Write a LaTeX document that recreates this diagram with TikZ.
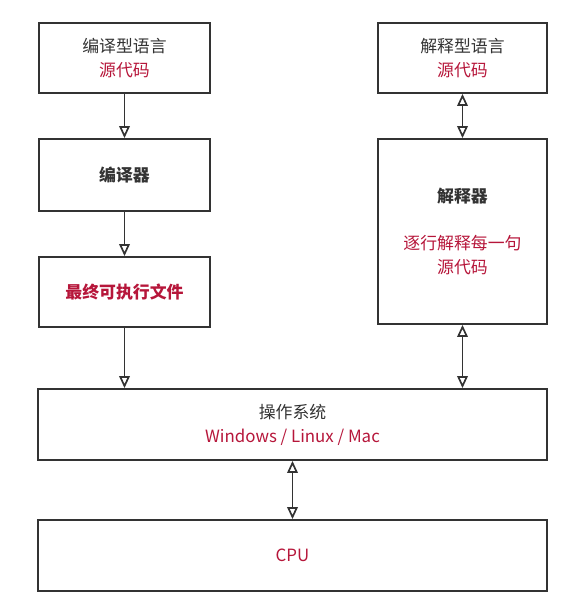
\documentclass[tikz,border=0pt]{standalone}
\usepackage{fontspec}
\setmainfont{Noto Sans CJK SC}
\usetikzlibrary{arrows.meta}
\definecolor{hl}{RGB}{182,22,58}
\definecolor{ink}{RGB}{51,51,51}
\tikzset{
  box/.style={draw=ink, line width=1.3pt, align=center, text=ink, inner sep=0pt,
    font=\fontsize{12}{17}\selectfont},
  link/.style={draw=ink, line width=1.2pt, ->},
  dlink/.style={draw=ink, line width=1.2pt, <->}
}
\begin{document}
\begin{tikzpicture}[x=0.025cm,y=-0.025cm,>={Triangle[open,length=8.5pt,width=7.5pt]}]
\useasboundingbox (0,0) rectangle (578,616);

\node[box, minimum width=4.275cm, minimum height=1.75cm] (src1) at (124.5,58)
  {编译型语言\\ \textcolor{hl}{源代码}};
\node[box, minimum width=4.275cm, minimum height=1.8cm] (comp) at (124.5,175)
  {\textbf{编译器}};
\node[box, minimum width=4.275cm, minimum height=1.75cm] (exe) at (124.5,292)
  {\textcolor{hl}{\textbf{最终可执行文件}}};

\node[box, minimum width=4.225cm, minimum height=1.75cm] (src2) at (462.5,58)
  {解释型语言\\ \textcolor{hl}{源代码}};
\node[box, minimum width=4.225cm, minimum height=4.625cm] (interp) at (462.5,231.5)
  {\textbf{解释器}\\[16pt] \textcolor{hl}{逐行解释每一句}\\ \textcolor{hl}{源代码}};

\node[box, minimum width=12.725cm, minimum height=1.775cm] (os) at (292.5,424.5)
  {操作系统\\ \textcolor{hl}{Windows / Linux / Mac}};
\node[box, minimum width=12.725cm, minimum height=1.775cm] (cpu) at (292.5,555.5)
  {\textcolor{hl}{CPU}};

\draw[link] (src1) -- (comp);
\draw[link] (comp) -- (exe);
\draw[link] (exe.south) -- (exe.south |- os.north);

\draw[dlink] (src2) -- (interp);
\draw[dlink] (interp.south) -- (interp.south |- os.north);

\draw[dlink] (os) -- (cpu);
\end{tikzpicture}
\end{document}
